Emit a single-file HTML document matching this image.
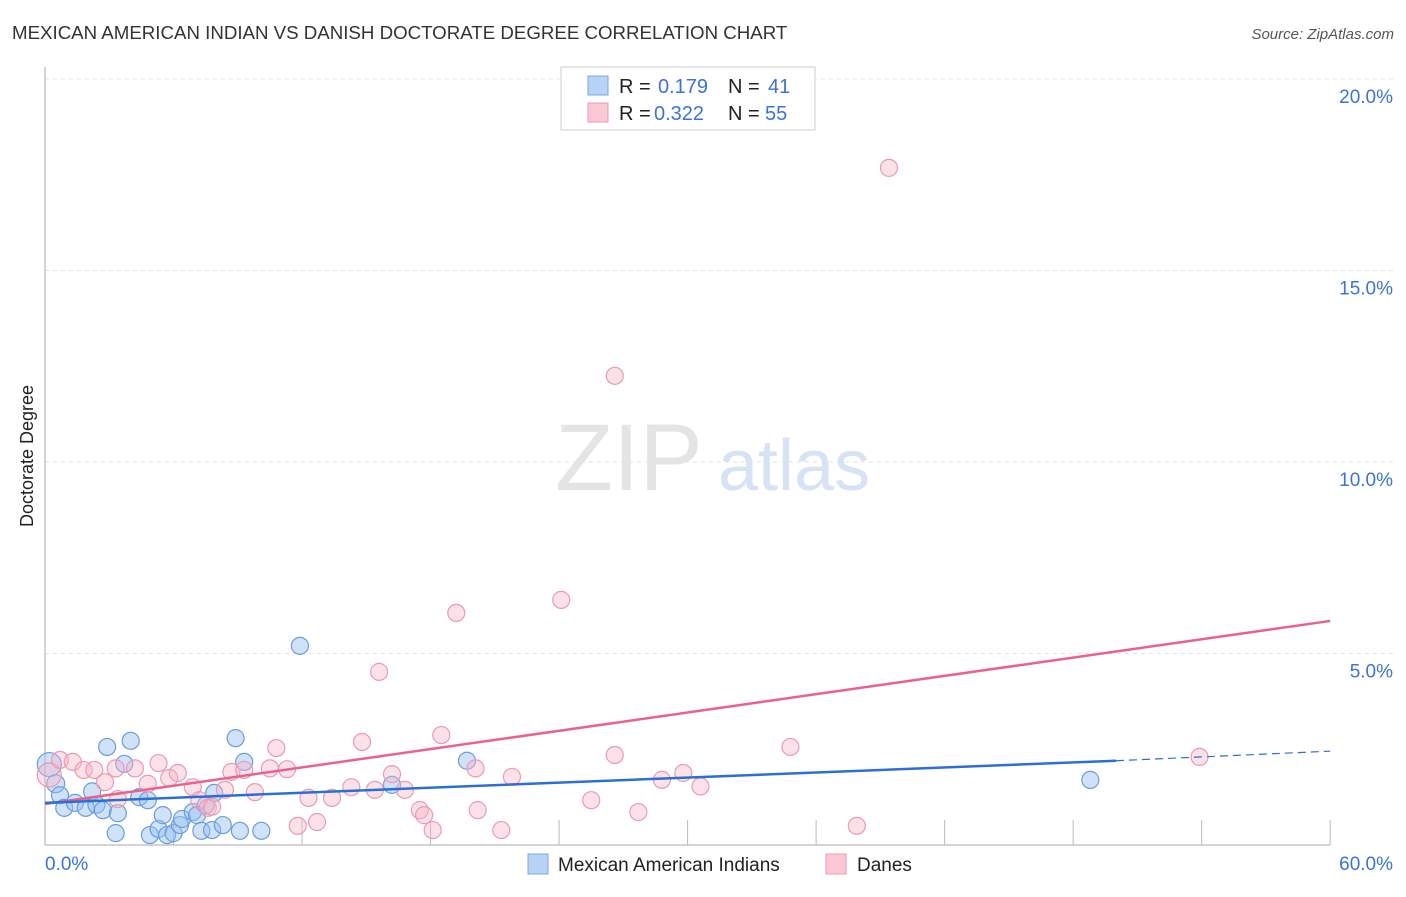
<!DOCTYPE html>
<html><head><meta charset="utf-8"><style>
body{margin:0;background:#fff;font-family:"Liberation Sans",sans-serif;}
svg text{font-family:"Liberation Sans",sans-serif;}
</style></head><body>
<svg id="c" width="1406" height="892" xmlns="http://www.w3.org/2000/svg">
<text x="12" y="39" font-size="18.7" fill="#333">MEXICAN AMERICAN INDIAN VS DANISH DOCTORATE DEGREE CORRELATION CHART</text>
<text x="1394" y="39" font-size="15" fill="#555" font-style="italic" text-anchor="end">Source: ZipAtlas.com</text>
<text x="33" y="456" font-size="18" fill="#222" text-anchor="middle" transform="rotate(-90 33 456)">Doctorate Degree</text>
<text x="555" y="490" font-size="95" fill="#e4e4e4" font-family="Liberation Serif">ZIP</text>
<text x="718" y="490" font-size="72" fill="#d6e3f5">atlas</text>
<g id="grid"></g><g id="marks"></g>
<g>
<rect x="561" y="67" width="254" height="63" fill="#fff" stroke="#ccc"/>
<rect x="588" y="76" width="20" height="19" fill="#b8d3f5" stroke="#7ba7e3"/>
<rect x="588" y="103" width="20" height="19" fill="#fbc8d6" stroke="#eb98b2"/>
<text x="619" y="93" font-size="20" fill="#222">R = </text><text x="658" y="93" font-size="20" fill="#3b74d4">0.179</text>
<text x="728" y="93" font-size="20" fill="#222">N = </text><text x="768" y="93" font-size="20" fill="#3b74d4">41</text>
<text x="619" y="120" font-size="20" fill="#222">R = </text><text x="654" y="120" font-size="20" fill="#3b74d4">0.322</text>
<text x="728" y="120" font-size="20" fill="#222">N = </text><text x="765" y="120" font-size="20" fill="#3b74d4">55</text>
</g>
<g>
<rect x="528" y="854" width="20" height="20" fill="#b8d3f5" stroke="#7ba7e3"/>
<text x="558" y="871" font-size="19" fill="#222">Mexican American Indians</text>
<rect x="826" y="854" width="20" height="20" fill="#fbc8d6" stroke="#eb98b2"/>
<text x="857" y="871" font-size="19" fill="#222">Danes</text>
</g>
</svg>
<script>
const yTicks=[5,10,15,20];
const yTickLabels=["5.0%","10.0%","15.0%","20.0%"];
const xTicks=[0,6,12,18,24,30,36,42,48,54,60];
const blueX=[0.2,0.5,0.7,0.9,1.4,1.9,2.2,2.4,2.7,2.9,3.3,3.4,3.7,4.0,4.4,4.8,4.9,5.3,5.5,5.7,6.0,6.3,6.4,6.9,7.1,7.3,7.5,7.8,7.9,8.3,8.9,9.1,9.3,10.1,11.9,16.2,19.7,48.8];
const blueY=[2.1,1.6,1.3,0.97,1.1,0.97,1.4,1.05,0.91,2.56,0.31,0.83,2.12,2.72,1.25,1.17,0.26,0.42,0.78,0.26,0.31,0.52,0.68,0.86,0.78,0.37,1.04,0.39,1.36,0.52,2.79,0.37,2.17,0.37,5.2,1.57,2.2,1.7];
const blueSize=[16,12,11,11,11,11,11,11,11,11,11,11,11,11,11,11,11,11,11,11,11,11,11,11,11,11,11,11,11,11,11,11,11,11,11,11,11,11];
const pinkX=[0.2,0.7,1.3,1.8,2.3,2.8,3.3,3.4,4.2,4.8,5.3,5.8,6.2,6.9,7.2,7.6,7.8,8.4,8.7,9.3,9.8,10.5,10.8,11.3,11.8,12.3,12.7,13.4,14.3,14.8,15.4,15.6,16.2,16.8,17.5,17.7,18.1,18.5,19.2,20.1,20.2,21.3,21.8,24.1,25.5,26.6,26.6,27.7,28.8,29.8,30.6,34.8,37.9,39.4,53.9];
const pinkY=[1.83,2.22,2.17,1.96,1.96,1.64,2.0,1.2,2.0,1.6,2.14,1.75,1.88,1.51,1.17,0.97,1.0,1.44,1.91,1.96,1.38,2.0,2.53,1.98,0.5,1.23,0.6,1.23,1.51,2.69,1.44,4.52,1.85,1.44,0.91,0.78,0.39,2.87,6.06,2.0,0.91,0.39,1.78,6.4,1.17,2.35,12.25,0.86,1.7,1.88,1.53,2.56,0.5,17.68,2.3];
const pinkSize=[16,11,11,11,11,11,11,11,11,11,11,11,11,11,11,11,11,11,11,11,11,11,11,11,11,11,11,11,11,11,11,11,11,11,11,11,11,11,11,11,11,11,11,11,11,11,11,11,11,11,11,11,11,11,11];
const blueTrend=[1.1,2.2,2.45];
const pinkTrend=[1.07,5.85];
const X=v=>45+v*21.42, Y=v=>845-v*38.3;
const NS="http://www.w3.org/2000/svg";
function mk(p,t,a){const e=document.createElementNS(NS,t);for(const k in a)e.setAttribute(k,a[k]);p.appendChild(e);return e;}
const g=document.getElementById('grid'), m=document.getElementById('marks');
yTicks.forEach((t,i)=>{
 const l=mk(g,'line',{x1:45,x2:1394,y1:Y(t),y2:Y(t),stroke:'#e2e2e2','stroke-dasharray':'4,4'});
 
 
 const tx=mk(g,'text',{x:1393,y:Y(t)+24,'font-size':19,fill:'#3b74d4','text-anchor':'end'});tx.textContent=yTickLabels[i];
 
 
});
mk(g,'line',{x1:45,x2:45,y1:67,y2:845,stroke:'#aaa'});
const xa=mk(g,'line',{x1:45,x2:1330,y1:845,y2:845,stroke:'#aaa'});


xTicks.forEach(t=>{if(t>0){const l=mk(g,'line',{x1:X(t),x2:X(t),y1:820,y2:845,stroke:'#bbb'});
 
 }});
const x0=mk(g,'text',{x:45,y:870,'font-size':19,fill:'#3b74d4'});x0.textContent='0.0%';


const x1=mk(g,'text',{x:1393,y:870,'font-size':19,fill:'#3b74d4','text-anchor':'end'});x1.textContent='60.0%';


const rad=s=>s==11?8.5:s*0.75;
blueX.forEach((v,i)=>{const c=mk(m,'circle',{cx:X(v),cy:Y(blueY[i]),r:rad(blueSize[i]),fill:'rgba(150,190,240,0.45)',stroke:'#6a9de0','stroke-width':1.2});
 
 });
pinkX.forEach((v,i)=>{const c=mk(m,'circle',{cx:X(v),cy:Y(pinkY[i]),r:rad(pinkSize[i]),fill:'rgba(248,180,200,0.4)',stroke:'#ec9ab4','stroke-width':1.2});
 
 });
const pt=mk(m,'line',{x1:X(0),y1:Y(pinkTrend[0]),x2:X(60),y2:Y(pinkTrend[1]),stroke:'#e8628c','stroke-width':2.5});


const bt=mk(m,'line',{x1:X(0),y1:Y(blueTrend[0]),x2:X(50),y2:Y(blueTrend[1]),stroke:'#2a6fd6','stroke-width':2.5});


const bd=mk(m,'line',{x1:X(50),y1:Y(blueTrend[1]),x2:X(60),y2:Y(blueTrend[2]),stroke:'#2a6fd6','stroke-width':1.2,'stroke-dasharray':'8,5'});


</script>
</body></html>
